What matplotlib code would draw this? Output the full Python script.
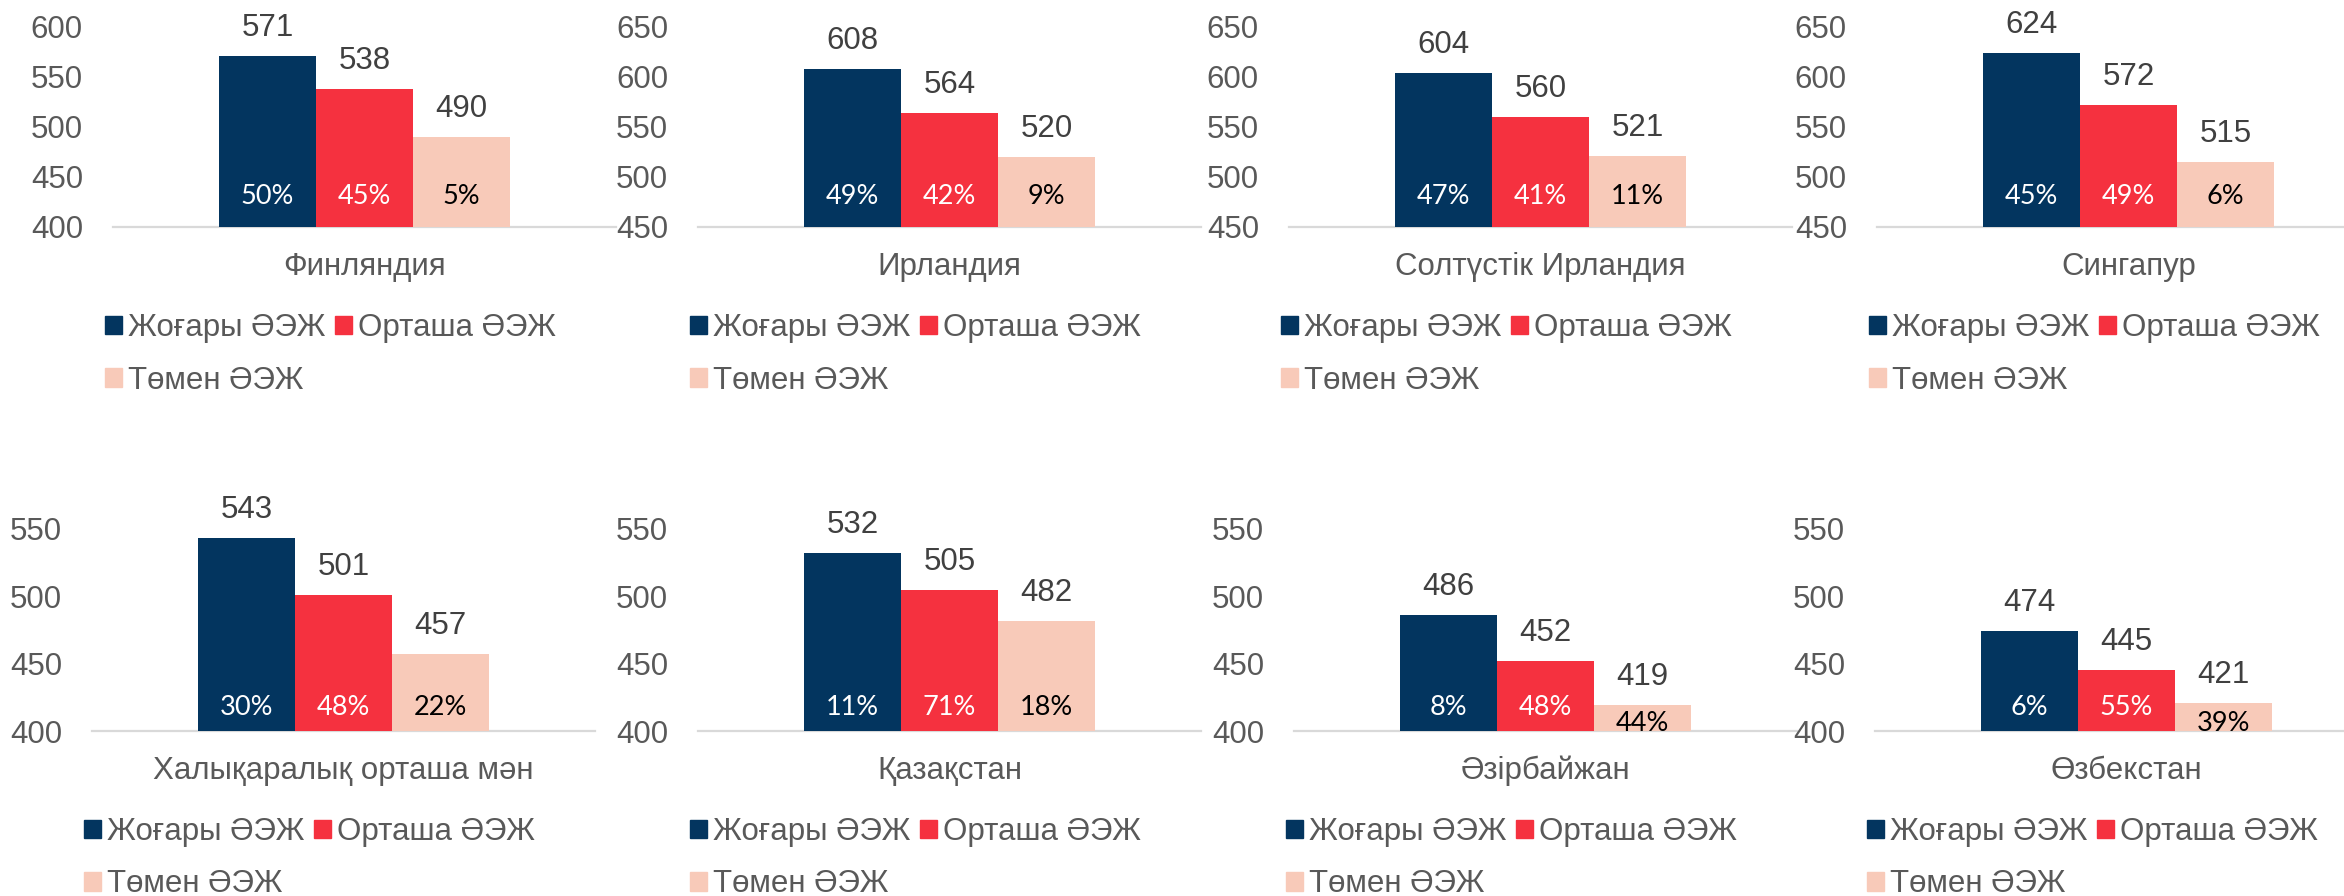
import matplotlib.pyplot as plt
from matplotlib.patches import Patch

plt.rcParams['font.family'] = ['Liberation Sans', 'DejaVu Sans']

# дерек
countries = ['Финляндия', 'Ирландия', 'Солтүстік Ирландия', 'Сингапур',
             'Халықаралық орташа мән', 'Қазақстан', 'Әзірбайжан', 'Өзбекстан']
high = [571, 608, 604, 624, 543, 532, 486, 474]
mid = [538, 564, 560, 572, 501, 505, 452, 445]
low = [490, 520, 521, 515, 457, 482, 419, 421]
pct_high = [50, 49, 47, 45, 30, 11, 8, 6]
pct_mid = [45, 42, 41, 49, 48, 71, 48, 55]
pct_low = [5, 9, 11, 6, 22, 18, 44, 39]
y_min = [400, 450, 450, 450, 400, 400, 400, 400]
y_max = [600, 650, 650, 650, 550, 550, 550, 550]
series_names = ['Жоғары ӘЭЖ', 'Орташа ӘЭЖ', 'Төмен ӘЭЖ']

colors = ['#03355F', '#F5313F', '#F8CAB9']
pct_colors = ['white', 'white', 'black']

W, H = 2344, 896
fig = plt.figure(figsize=(W / 100, H / 100), dpi=100)

# панельдер (пиксель): сол жақ шеті, жоғары, төмен
layout = [
    (113, 27, 227),
    (698, 27, 227),
    (1289, 27, 227),
    (1877, 27, 227),
    (92, 529, 731),
    (698, 529, 731),
    (1294, 529, 731),
    (1875, 529, 731),
]
PLOT_PX = 503
GROUP_PX = 291
PT = 0.72  # px -> pt
FS = 22.5

for i, name in enumerate(countries):
    l, t, b = layout[i]
    ax = fig.add_axes([l / W, 1 - b / H, PLOT_PX / W, (b - t) / H])
    half = PLOT_PX / 2 / GROUP_PX
    ax.set_xlim(-half, half)
    ax.set_ylim(y_min[i], y_max[i])
    ax.set_yticks(range(y_min[i], y_max[i] + 1, 50))
    ax.set_xticks([])
    for s in ['top', 'right', 'left']:
        ax.spines[s].set_visible(False)
    ax.spines['bottom'].set_color('#D9D9D9')
    ax.spines['bottom'].set_linewidth(1.6)
    ax.tick_params(axis='y', length=0, pad=30 * PT, labelsize=FS, labelcolor='#595959')
    ax.patch.set_alpha(0)

    px_per_unit = (b - t) / (y_max[i] - y_min[i])
    vals = [high[i], mid[i], low[i]]
    pcts = [pct_high[i], pct_mid[i], pct_low[i]]
    w = 1 / 3
    for k in range(3):
        x = (k - 1) * w
        ax.bar(x, vals[k] - y_min[i], bottom=y_min[i], width=w, color=colors[k], zorder=3)
        ax.annotate(str(vals[k]), (x, vals[k]), xytext=(0, 28 * PT), textcoords='offset points',
                    ha='center', va='center', fontsize=FS, color='#404040', annotation_clip=False)
        bar_px = (vals[k] - y_min[i]) * px_per_unit
        off = 30 if b < 400 else 24
        if bar_px < 40:
            off = 8
        ax.annotate(f'{pcts[k]}%', (x, y_min[i]), xytext=(0, off * PT), textcoords='offset points',
                    ha='center', va='center', fontsize=19.5, color=pct_colors[k],
                    family=['Lato', 'DejaVu Sans'], zorder=4, annotation_clip=False)

    ax.annotate(name, (0, 0), xycoords=('data', 'axes fraction'), xytext=(0, -40 * PT),
                textcoords='offset points', ha='center', va='center', fontsize=FS, color='#595959',
                annotation_clip=False)

    handles = [Patch(color=colors[k], label=series_names[k]) for k in range(3)]
    leg_top = b + 86
    ax.legend(handles=[handles[0], handles[2], handles[1]], ncol=2, loc='upper left',
              bbox_to_anchor=((l - 8) / W, 1 - leg_top / H), bbox_transform=fig.transFigure,
              frameon=False, fontsize=FS, labelcolor='#595959', borderpad=0, borderaxespad=0,
              handlelength=0.54, handleheight=0.54, handletextpad=0.19, columnspacing=0.32,
              labelspacing=0.72)

fig.savefig('out.png', dpi=100)
